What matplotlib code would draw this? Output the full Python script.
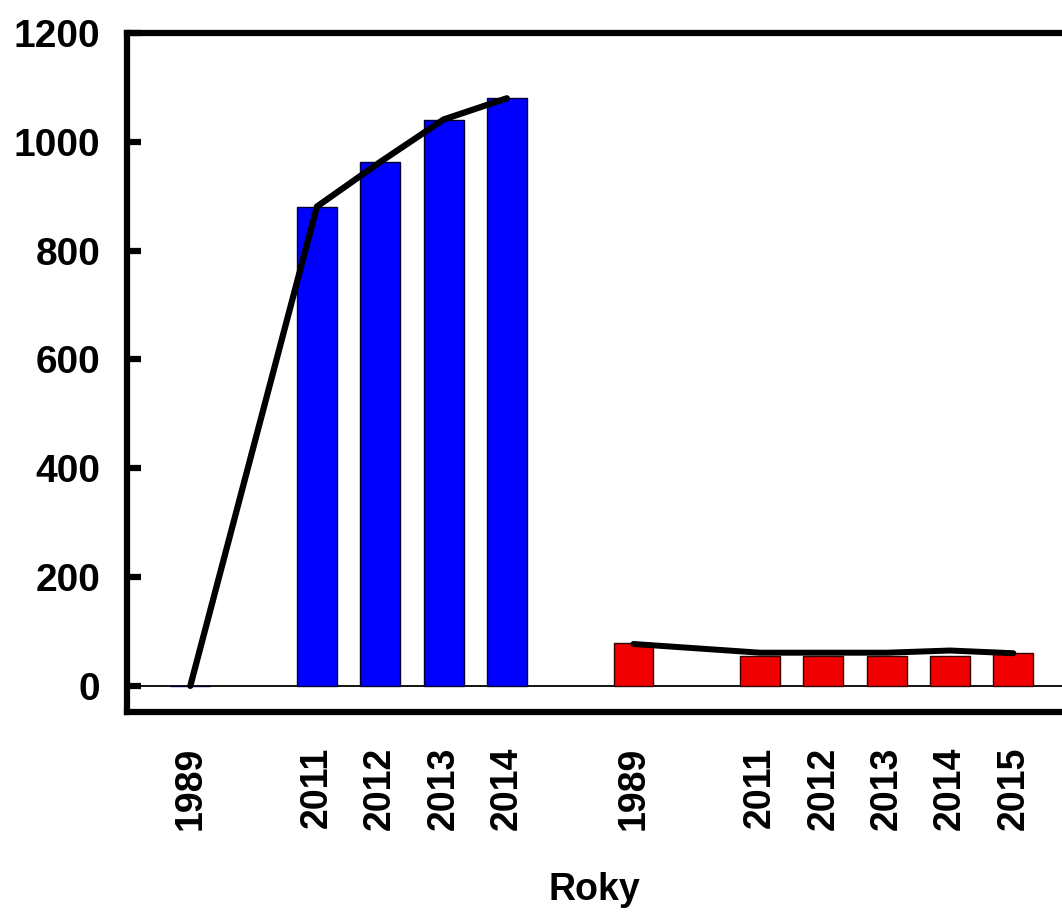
import matplotlib
matplotlib.use("Agg")
import matplotlib.pyplot as plt
import numpy as np

plt.rcParams['font.family'] = ['Liberation Sans', 'DejaVu Sans']

# Data
blue_labels = ['1989', '2011', '2012', '2013', '2014']
blue_bars = [0, 881, 963, 1041, 1080]
blue_line = [0, 881, 963, 1041, 1080]

red_labels = ['1989', '2011', '2012', '2013', '2014', '2015']
red_bars = [78, 55, 55, 55, 55, 61]
red_line = [77, 61, 61, 61, 65, 60]

y_ticks = [0, 200, 400, 600, 800, 1000, 1200]
x_title = 'Roky'

# Layout: slot positions (gaps between 1989 and 2011, and between groups)
blue_pos = np.array([0, 2, 3, 4, 5])
red_pos = np.array([7, 9, 10, 11, 12, 13])

fig = plt.figure(figsize=(10.62, 9.13), dpi=100)
ax = fig.add_axes([127/1062, 201/913, (1102-127)/1062, 679/913])

bw = 0.63
ax.bar(blue_pos, blue_bars, width=bw, color='#0000FF', edgecolor='#000033', linewidth=1, zorder=2)
ax.bar(red_pos, red_bars, width=bw, color='#F00000', edgecolor='#330000', linewidth=1, zorder=2)
ax.plot(blue_pos, blue_line, color='black', linewidth=4.5, solid_capstyle='round', zorder=3)
ax.plot(red_pos, red_line, color='black', linewidth=4.3, solid_capstyle='round', zorder=3)
ax.axhline(0, color='black', linewidth=1.3, zorder=1)

ax.set_xlim(-1, 14.4)
ax.set_ylim(-48, 1200)
ax.set_yticks(y_ticks)
ax.set_yticklabels([str(v) for v in y_ticks], fontsize=28, fontweight='bold')
ax.set_xticks(np.concatenate([blue_pos, red_pos]))
ax.set_xticklabels(blue_labels + red_labels, rotation=90, fontsize=27, fontweight='bold')
ax.tick_params(axis='y', direction='in', length=10, width=4.5, pad=19)
ax.tick_params(axis='x', length=0, pad=25)

for s in ['left', 'top', 'bottom']:
    ax.spines[s].set_linewidth(4.5)
ax.spines['right'].set_visible(False)

fig.text(594/1062, 1 - 890/913, x_title, ha='center', va='center', fontsize=27, fontweight='bold')

fig.savefig('out.png', dpi=100)
